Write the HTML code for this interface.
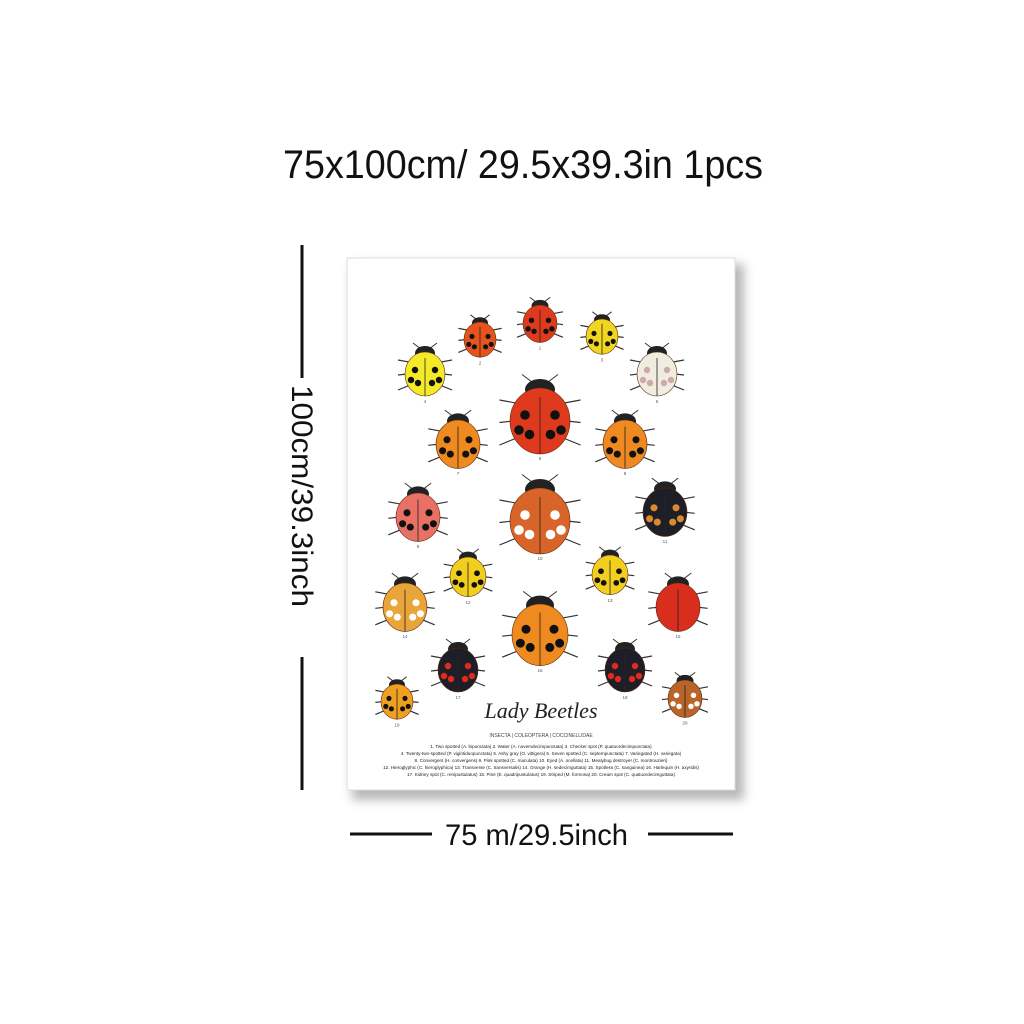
<!DOCTYPE html>
<html><head><meta charset="utf-8"><style>
html,body{margin:0;padding:0;background:#fff;}
svg{display:block}
</style></head><body>
<svg width="1024" height="1024" viewBox="0 0 1024 1024" font-family="Liberation Sans, sans-serif">
  <defs>
    <filter id="sh" x="-10%" y="-10%" width="130%" height="130%"><feGaussianBlur stdDeviation="5"/></filter>
  </defs>
  <text x="283" y="178" font-size="40" textLength="480" lengthAdjust="spacingAndGlyphs" fill="#111">75x100cm/ 29.5x39.3in 1pcs</text>

  <!-- vertical dimension -->
  <line x1="302" y1="245" x2="302" y2="378" stroke="#111" stroke-width="3"/>
  <line x1="302" y1="657" x2="302" y2="790" stroke="#111" stroke-width="3"/>
  <text transform="translate(292,385) rotate(90)" font-size="30" textLength="222" lengthAdjust="spacingAndGlyphs" fill="#111">100cm/39.3inch</text>

  <!-- horizontal dimension -->
  <line x1="350" y1="834" x2="432" y2="834" stroke="#111" stroke-width="3"/>
  <line x1="648" y1="834" x2="733" y2="834" stroke="#111" stroke-width="3"/>
  <text x="445" y="845" font-size="30" textLength="183" lengthAdjust="spacingAndGlyphs" fill="#111">75 m/29.5inch</text>

  <!-- poster -->
  <rect x="352" y="264" width="392" height="536" fill="#888" opacity="0.6" filter="url(#sh)"/>
  <rect x="347" y="258" width="388" height="532" fill="#fff" stroke="#ddd" stroke-width="1"/>

  <g id="bugs"></g>

  <text x="541" y="718" text-anchor="middle" font-family="Liberation Serif, serif" font-style="italic" font-size="22" fill="#222">Lady Beetles</text>
  <text x="541" y="737" text-anchor="middle" font-size="5" fill="#444">INSECTA | COLEOPTERA | COCCINELLIDAE</text>
  <g font-size="4.6" fill="#222" text-anchor="middle">
    <text x="541" y="748">1. Two spotted (A. bipunctata) 2. Water (A. novemdecimpunctata) 3. Checker spot (P. quatuordecimpunctata)</text>
    <text x="541" y="755">4. Twenty-two-spotted (P. vigintiduopunctata) 5. Ashy gray (O. vittigera) 6. Seven spotted (C. septempunctata) 7. Variegated (H. variegata)</text>
    <text x="541" y="762">8. Convergent (H. convergens) 9. Pink spotted (C. maculata) 10. Eyed (A. ocellata) 11. Mealybug destroyer (C. montrouzieri)</text>
    <text x="541" y="769">12. Hieroglyphic (C. hieroglyphica) 13. Transverse (C. transversalis) 14. Orange (H. sedecimguttata) 15. Spotless (C. sanguinea) 16. Harlequin (H. axyridis)</text>
    <text x="541" y="776">17. Kidney spot (C. renipustulatus) 18. Pine (E. quadripustulatus) 19. Striped (M. formosa) 20. Cream spot (C. quatuordecimguttata)</text>
  </g>

<script>
const bugNums=[1,2,3,4,5,6,7,8,9,10,11,12,13,14,15,16,17,18,19,20];
const bugX=[540,480,602,425,657,540,458,625,418,540,665,468,610,405,678,540,458,625,397,685];
const bugY=[322,338,335,372,372,418,442,442,515,518,510,575,573,605,605,632,668,668,700,697];
const bugR=[17,16,16,20,20,30,22,22,22,30,22,18,18,22,22,28,20,20,16,17];
const bugBody=['#e03a1e','#e5541d','#f2d51e','#f4ea2a','#f1ece0','#e03a1e','#ef8a20','#ef8a20','#e97064','#d8642a','#1e1e28','#f2cf1e','#f2cf1e','#e9a53a','#d92e1e','#ef8a20','#1e1e28','#1e1e28','#f0a020','#b9652a'];
const bugSpot=['#111','#111','#111','#111','#caa','#111','#111','#111','#111','#fff','#d98a2a','#111','#111','#fff','#d92e1e','#111','#e02a1a','#e02a1a','#111','#fff'];
const ns='http://www.w3.org/2000/svg';
const g=document.getElementById('bugs');
function mk(t,a){const e=document.createElementNS(ns,t);for(const k in a)e.setAttribute(k,a[k]);return e;}
bugNums.forEach((n,i)=>{
  const x=bugX[i],y=bugY[i],r=bugR[i];
  const b=mk('g',{});
  
  
  // legs
  for(let s=-1;s<=1;s+=2){for(let k=-1;k<=1;k++){
    b.appendChild(mk('line',{x1:x,y1:y+k*r*0.35,x2:x+s*r*1.35,y2:y+k*r*0.75+r*0.15,stroke:'#333','stroke-width':1.2}));
  }}
  b.appendChild(mk('line',{x1:x,y1:y-r,x2:x-r*0.6,y2:y-r*1.45,stroke:'#333','stroke-width':1}));
  b.appendChild(mk('line',{x1:x,y1:y-r,x2:x+r*0.6,y2:y-r*1.45,stroke:'#333','stroke-width':1}));
  b.appendChild(mk('ellipse',{cx:x,cy:y-r*0.95,rx:r*0.5,ry:r*0.35,fill:'#222'}));
  b.appendChild(mk('ellipse',{cx:x,cy:y+r*0.1,rx:r,ry:r*1.1,fill:bugBody[i],stroke:'#5a2a10','stroke-width':0.6}));
  b.appendChild(mk('line',{x1:x,y1:y-r*0.7,x2:x,y2:y+r*1.2,stroke:'#222','stroke-width':0.8}));
  const sp=[[-0.5,-0.2],[0.5,-0.2],[-0.35,0.45],[0.35,0.45],[-0.7,0.3],[0.7,0.3]];
  sp.forEach(p=>b.appendChild(mk('circle',{cx:x+p[0]*r,cy:y+p[1]*r+r*0.1,r:r*0.16,fill:bugSpot[i]})));
  const t=mk('text',{x:x,y:y+r*1.1+9,'font-size':4.5,'text-anchor':'middle',fill:'#555'});
  
  
  t.textContent=n;b.appendChild(t);
  g.appendChild(b);
});
</script>
</svg>
</body></html>
